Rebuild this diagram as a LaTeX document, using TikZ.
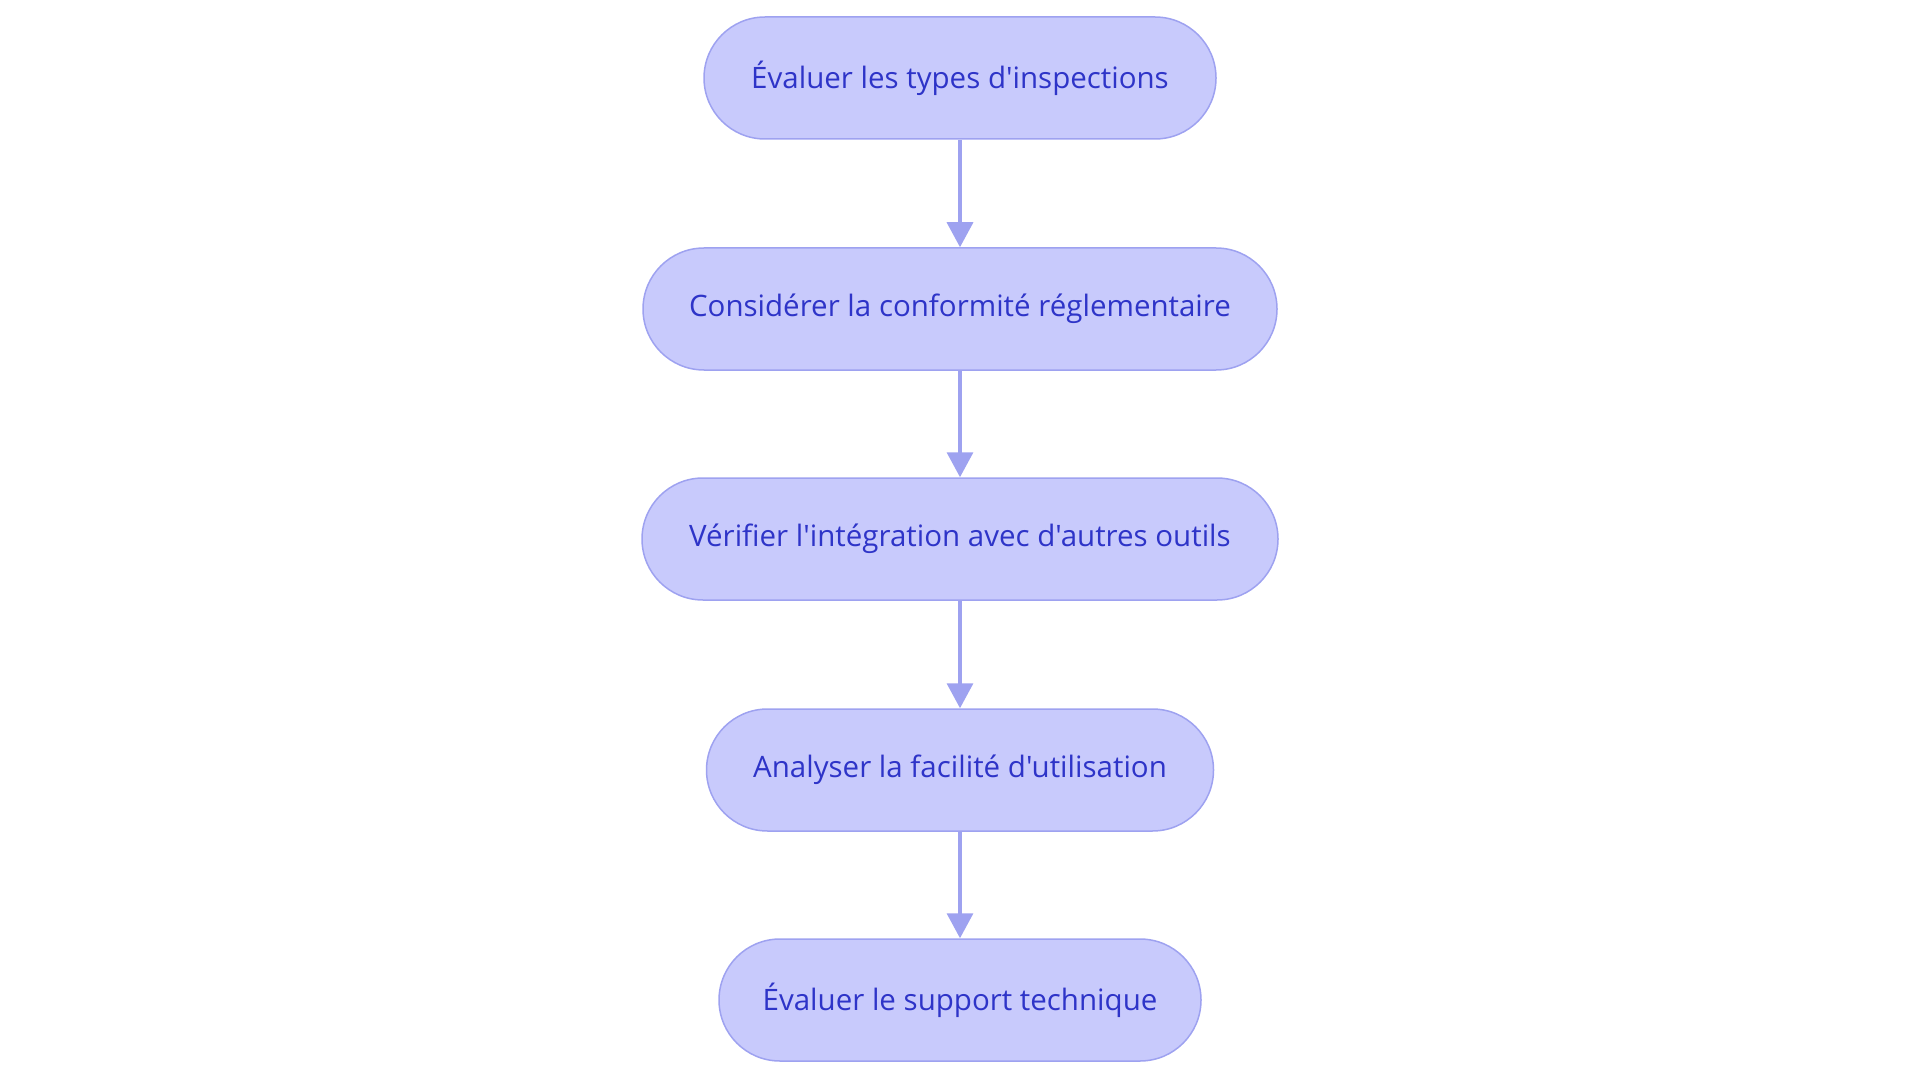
\documentclass[tikz,border=0pt]{standalone}
\usepackage{fontspec}
\setmainfont{Open Sans}[Ligatures={TeXOff,NoCommon}]
\usetikzlibrary{arrows.meta}
\definecolor{boxfill}{HTML}{C8CAFC}
\definecolor{boxline}{HTML}{9EA2F0}
\definecolor{boxtext}{HTML}{2E34C8}
\begin{document}
\begin{tikzpicture}[x=1pt,y=-1pt,
  stepbox/.style={draw=boxline, line width=1.5pt, fill=boxfill, rounded corners=61pt,
    minimum height=122pt, text=boxtext, font=\fontsize{29.5}{35}\selectfont, inner sep=0pt},
  flow/.style={draw=boxline, line width=3.5pt, -{Triangle[length=25pt,width=26pt]}}]
\useasboundingbox (0,0) rectangle (1920,1083);
\node[stepbox, minimum width=512pt] (n1) at (960,78) {Évaluer les types d'inspections};
\node[stepbox, minimum width=634pt] (n2) at (960,309) {Considérer la conformité réglementaire};
\node[stepbox, minimum width=636pt] (n3) at (960,539) {Vérifier l'intégration avec d'autres outils};
\node[stepbox, minimum width=507pt] (n4) at (960,770) {Analyser la facilité d'utilisation};
\node[stepbox, minimum width=482pt] (n5) at (960,1000) {Évaluer le support technique};
\draw[flow] (n1) -- (n2);
\draw[flow] (n2) -- (n3);
\draw[flow] (n3) -- (n4);
\draw[flow] (n4) -- (n5);
\end{tikzpicture}
\end{document}
